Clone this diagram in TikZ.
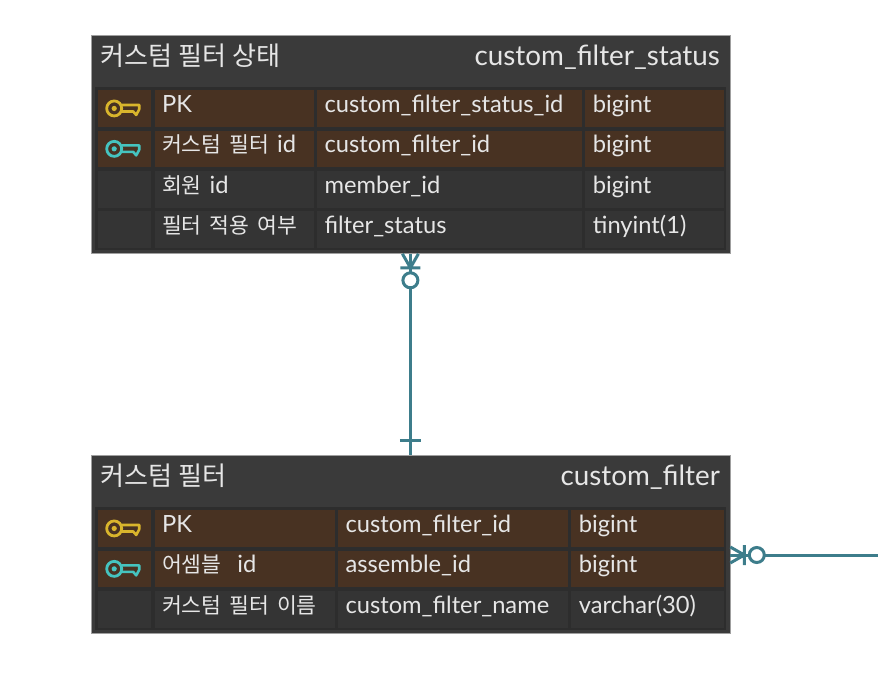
\documentclass[tikz,border=0pt]{standalone}
\usepackage{fontspec}
\setmainfont{Lato}
\newfontfamily\krfont[Scale=0.91]{Noto Sans CJK KR}
\newfontfamily\krtitlefont[Scale=0.94]{Noto Sans CJK KR}
\newcommand{\kr}[1]{{\krfont #1}}
\newcommand{\krtitle}[1]{{\krtitlefont #1}}
\usepackage{xcolor}
\usetikzlibrary{positioning}
\definecolor{tablebg}{HTML}{3A3A3A}
\definecolor{rowsbg}{HTML}{2D2D2D}
\definecolor{rowdark}{HTML}{343434}
\definecolor{rowkey}{HTML}{483222}
\definecolor{cellink}{HTML}{E6E6E6}
\definecolor{linkteal}{HTML}{3D7D8B}
\definecolor{keyyellow}{HTML}{D9B52C}
\definecolor{keyteal}{HTML}{45C4C0}
\tikzset{
  pics/keyicon/.style={code={
    \draw[pic actions,line width=2.8pt,fill=none] (-10.5,0) circle (7.5);
    \fill[pic actions,draw=none] (-10.5,0) circle (2.6);
    \draw[pic actions,line width=2.6pt,fill=none,line join=round] (-3,-3.5) -- (14.5,-3.5) -- (14.5,1) -- (11.5,6.5) -- (8.5,3) -- (-3,3);
  }},
  pics/crowfoot/.style={code={
    % tip on the table edge, opening towards it
    \draw[linkteal,line width=3pt] (-8,0) -- (0,14) -- (8,0) (-10,14) -- (10,14);
    \draw[linkteal,line width=3pt,fill=white] (0,26.5) circle (7.5);
  }},
  pics/onebar/.style={code={
    \draw[linkteal,line width=3pt] (-10.5,15) -- (10.5,15);
  }}
}
\begin{document}
\begin{tikzpicture}[x=1pt,y=-1pt,
  tablebox/.style={draw=gray!75,line width=0.8pt,fill=tablebg,anchor=north west,inner sep=0pt,minimum width=639pt},
  rowsbox/.style={fill=rowsbg,anchor=north west,inner sep=0pt,minimum width=631pt},
  cell/.style={fill=rowdark,text=cellink,anchor=north west,inner xsep=7.5pt,inner ysep=0pt,align=left,
    text width=#1-15pt,text height=22pt,text depth=14.5pt,font=\fontsize{23.7}{26}\selectfont},
  keycell/.style={cell=#1,fill=rowkey},
  title/.style={text=cellink,inner sep=0pt,font=\fontsize{27.8}{30}\selectfont},
  link/.style={draw=linkteal,line width=3pt},
  node distance=3.5pt and 3pt]
\useasboundingbox (0,0) rectangle (878,694);

\node[tablebox,minimum height=218pt] (status) at (90.5,35) {};
\node[rowsbox,minimum height=163pt] (statusrows) at (95,87) {};
\node[title,anchor=base west] (statuskr) at (100,65) {\krtitle{커스텀 필터 상태}};
\node[title,anchor=base east] (statusen) at (720,65) {custom\_filter\_status};

\node[keycell=53pt] (s1a) at (98,90) {};
\node[keycell=159pt,right=of s1a] (s1b) {PK};
\node[keycell=265pt,right=of s1b] (s1c) {custom\_filter\_status\_id};
\node[keycell=139pt,right=of s1c] (s1d) {bigint};
\node[keycell=53pt,below=of s1a] (s2a) {};
\node[keycell=159pt,right=of s2a] (s2b) {\kr{커스텀 필터} id};
\node[keycell=265pt,right=of s2b] (s2c) {custom\_filter\_id};
\node[keycell=139pt,right=of s2c] (s2d) {bigint};
\node[cell=53pt,below=of s2a] (s3a) {};
\node[cell=159pt,right=of s3a] (s3b) {\kr{회원} id};
\node[cell=265pt,right=of s3b] (s3c) {member\_id};
\node[cell=139pt,right=of s3c] (s3d) {bigint};
\node[cell=53pt,below=of s3a] (s4a) {};
\node[cell=159pt,right=of s4a] (s4b) {\kr{필터 적용 여부}};
\node[cell=265pt,right=of s4b] (s4c) {filter\_status};
\node[cell=139pt,right=of s4c] (s4d) {tinyint(1)};
\pic[draw=keyyellow,fill=keyyellow] at (s1a.center) {keyicon};
\pic[draw=keyteal,fill=keyteal] at (s2a.center) {keyicon};

\node[tablebox,minimum height=178pt] (filter) at (90.5,455) {};
\node[rowsbox,minimum height=123pt] (filterrows) at (95,507) {};
\node[title,anchor=base west] (filterkr) at (100,485) {\krtitle{커스텀 필터}};
\node[title,anchor=base east] (filteren) at (720,485) {custom\_filter};

\node[keycell=53pt] (f1a) at (98,510) {};
\node[keycell=180pt,right=of f1a] (f1b) {PK};
\node[keycell=230pt,right=of f1b] (f1c) {custom\_filter\_id};
\node[keycell=153pt,right=of f1c] (f1d) {bigint};
\node[keycell=53pt,below=of f1a] (f2a) {};
\node[keycell=180pt,right=of f2a] (f2b) {\kr{어셈블}\ \ id};
\node[keycell=230pt,right=of f2b] (f2c) {assemble\_id};
\node[keycell=153pt,right=of f2c] (f2d) {bigint};
\node[cell=53pt,below=of f2a] (f3a) {};
\node[cell=180pt,right=of f3a] (f3b) {\kr{커스텀 필터 이름}};
\node[cell=230pt,right=of f3b] (f3c) {custom\_filter\_name};
\node[cell=153pt,right=of f3c] (f3d) {varchar(30)};
\pic[draw=keyyellow,fill=keyyellow] at (f1a.center) {keyicon};
\pic[draw=keyteal,fill=keyteal] at (f2a.center) {keyicon};

\coordinate (offpage) at (878,555);
\draw[link] (status.south) -- (filter.north);
\draw[link] (filter.east |- offpage) -- (offpage);
\pic at (status.south) {crowfoot};
\pic at (filter.north) [yscale=-1] {onebar};
\pic[rotate=90] at (filter.east |- offpage) {crowfoot};
\end{tikzpicture}
\end{document}
